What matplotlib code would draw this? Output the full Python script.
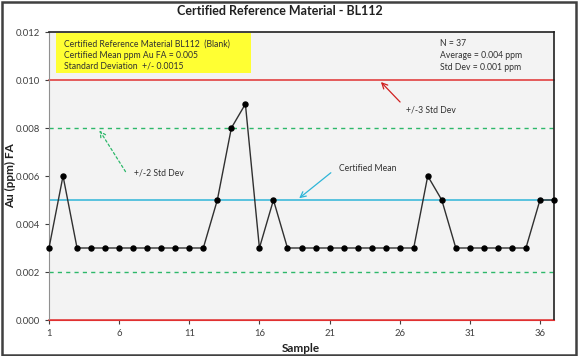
import matplotlib
matplotlib.use("Agg")
import matplotlib.pyplot as plt
from matplotlib.patches import Rectangle

plt.rcParams['font.family'] = ['Lato', 'DejaVu Sans']

samples = list(range(1, 38))
au_ppm = [0.003, 0.006, 0.003, 0.003, 0.003, 0.003, 0.003, 0.003, 0.003, 0.003,
          0.003, 0.003, 0.005, 0.008, 0.009, 0.003, 0.005, 0.003, 0.003, 0.003,
          0.003, 0.003, 0.003, 0.003, 0.003, 0.003, 0.003, 0.006, 0.005, 0.003,
          0.003, 0.003, 0.003, 0.003, 0.003, 0.005, 0.005]
certified_mean = 0.005
std2_lines = [0.008, 0.002]
std3_lines = [0.010, 0.000]
yticks = [0.000, 0.002, 0.004, 0.006, 0.008, 0.010, 0.012]
xticks = [1, 6, 11, 16, 21, 26, 31, 36]

W, H = 578, 356
fig = plt.figure(figsize=(W/100, H/100), dpi=100)
fig.patch.set_facecolor('white')
fig.add_artist(Rectangle((0.003, 0.004), 0.993, 0.991, transform=fig.transFigure,
                         fill=False, edgecolor='#404040', linewidth=1.8))

ax = fig.add_axes([49/W, (H-320)/H, (554-49)/W, (320-32)/H])
ax.set_facecolor('#f3f3f3')
ax.set_xlim(1, 37)
ax.set_ylim(0, 0.012)

for y in std3_lines:
    ax.axhline(y, color='#e03030', lw=1.1, zorder=2, clip_on=False)
for y in std2_lines:
    ax.axhline(y, color='#2db86a', lw=1.0, ls=(0, (3, 3)), zorder=2)
ax.axhline(certified_mean, color='#2eb5d8', lw=1.1, zorder=2)

ax.plot(samples, au_ppm, color='#303030', lw=1.0, marker='o', ms=3.6,
        markerfacecolor='black', markeredgecolor='black', zorder=4, clip_on=False)

ax.set_xticks(xticks)
ax.set_yticks(yticks)
ax.set_yticklabels([f"{v:.3f}" for v in yticks])
ax.tick_params(axis='both', labelsize=6.8, colors='#404040', length=3, width=0.8)
for s in ['top', 'right']:
    ax.spines[s].set_color('#202020')
    ax.spines[s].set_linewidth(1.2)
ax.spines['left'].set_color('#909090')
ax.spines['bottom'].set_color('#e03030')

ax.set_xlabel('Sample', fontsize=8.5, fontweight='bold', color='#202020',
              va='center', ha='center')
ax.set_ylabel('Au (ppm) FA', fontsize=8.5, fontweight='bold', color='#202020',
              va='center', ha='center')
ax.xaxis.set_label_coords((301-49)/(554-49), -(348-320)/(320-32))
ax.yaxis.set_label_coords(-(49-11)/(554-49), 0.5)

fig.text(280/W, 1-11/H, 'Certified Reference Material - BL112', ha='center', va='center',
         fontsize=9, fontweight='bold', color='#202020')

# yellow box
fig.add_artist(Rectangle((56/W, 1-73/H), (251-56)/W, 40/H, transform=fig.transFigure,
                         facecolor='#ffff33', edgecolor='none', zorder=5))
box_lines = ['Certified Reference Material BL112  (Blank)',
             'Certified Mean ppm Au FA = 0.005',
             'Standard Deviation  +/- 0.0015']
for i, t in enumerate(box_lines):
    fig.text(64/W, 1-(44+11*i)/H, t, fontsize=6.2, va='center', ha='left', color='#303030', zorder=6)

stats_lines = ['N = 37', 'Average = 0.004 ppm', 'Std Dev = 0.001 ppm']
for i, t in enumerate(stats_lines):
    fig.text(440/W, 1-(44+11.5*i)/H, t, fontsize=6.2, va='center', ha='left', color='#303030')

def px(x, y):
    return (x/W, 1-y/H)

ax.annotate('', xy=px(379, 80), xytext=px(402, 104), xycoords='figure fraction',
            textcoords='figure fraction',
            arrowprops=dict(arrowstyle='->', color='#d02020', lw=0.9))
fig.text(406/W, 1-110/H, '+/-3 Std Dev', fontsize=6.2, va='center', ha='left', color='#303030')

ax.annotate('', xy=px(98, 128), xytext=px(127, 174), xycoords='figure fraction',
            textcoords='figure fraction',
            arrowprops=dict(arrowstyle='->', color='#2db86a', lw=0.9, ls=(0, (2, 2))))
fig.text(134/W, 1-173/H, '+/-2 Std Dev', fontsize=6.2, va='center', ha='left', color='#303030')

ax.annotate('', xy=px(297, 200), xytext=px(333, 171), xycoords='figure fraction',
            textcoords='figure fraction',
            arrowprops=dict(arrowstyle='->', color='#2eb5d8', lw=0.9))
fig.text(339/W, 1-168/H, 'Certified Mean', fontsize=6.2, va='center', ha='left', color='#303030')

fig.savefig('out.png', dpi=100)
